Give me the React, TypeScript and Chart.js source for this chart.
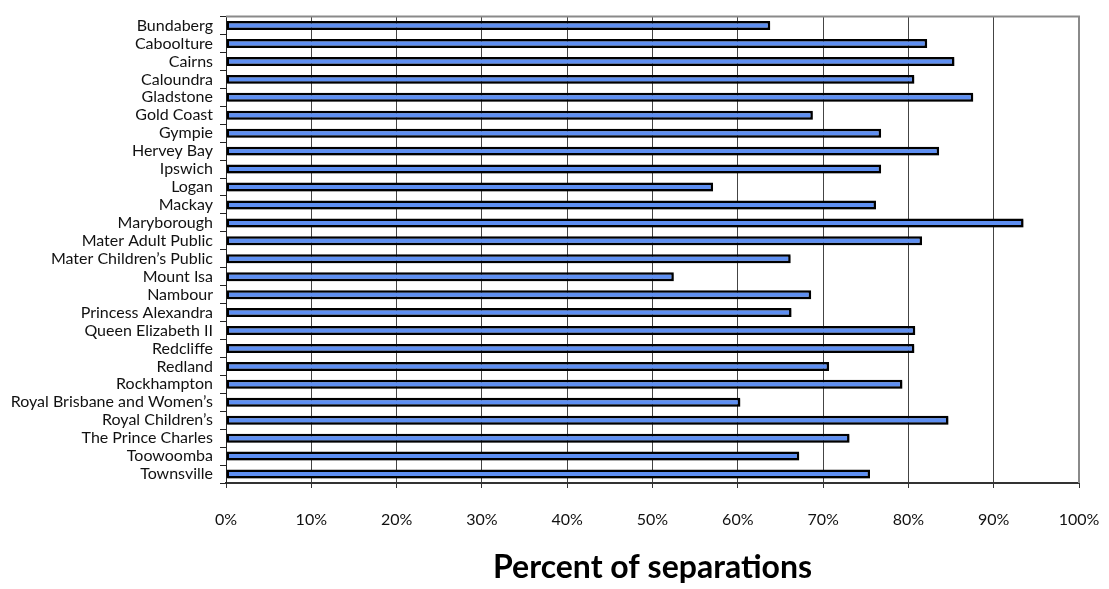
import React, { useEffect, useRef } from 'react';
import { Chart, registerables } from 'chart.js';

Chart.register(...registerables);

const hospitals = [
  'Bundaberg',
  'Caboolture',
  'Cairns',
  'Caloundra',
  'Gladstone',
  'Gold Coast',
  'Gympie',
  'Hervey Bay',
  'Ipswich',
  'Logan',
  'Mackay',
  'Maryborough',
  'Mater Adult Public',
  'Mater Children\u2019s Public',
  'Mount Isa',
  'Nambour',
  'Princess Alexandra',
  'Queen Elizabeth II',
  'Redcliffe',
  'Redland',
  'Rockhampton',
  'Royal Brisbane and Women\u2019s',
  'Royal Children\u2019s',
  'The Prince Charles',
  'Toowoomba',
  'Townsville',
];

const separationsPct = [
  63.8, 82.2, 85.4, 80.7, 87.6, 68.8, 76.8, 83.6, 76.8, 57.1, 76.2, 93.5, 81.6,
  66.2, 52.5, 68.6, 66.3, 80.8, 80.7, 70.7, 79.3, 60.3, 84.7, 73.1, 67.2, 75.5,
];

const tickValues = [0, 10, 20, 30, 40, 50, 60, 70, 80, 90, 100];
const axisTitle = 'Percent of separations';

export default function App() {
  const ref = useRef<HTMLCanvasElement | null>(null);

  useEffect(() => {
    document.body.style.margin = '0';
    if (!ref.current) return;

    const frame = {
      id: 'frame',
      afterDraw(chart: any) {
        const { ctx, chartArea } = chart;
        const { left, top, right, bottom } = chartArea;
        ctx.save();
        ctx.strokeStyle = '#8a8a8a';
        ctx.lineWidth = 2;
        ctx.beginPath();
        ctx.moveTo(left, top);
        ctx.lineTo(right, top);
        ctx.lineTo(right, bottom);
        ctx.stroke();
        ctx.restore();
      },
    };

    const shadow = {
      id: 'barShadow',
      beforeDatasetsDraw(chart: any) {
        const ctx = chart.ctx;
        ctx.save();
        ctx.shadowColor = 'rgba(0,0,0,0.22)';
        ctx.shadowOffsetX = 1.5;
        ctx.shadowOffsetY = 1.5;
        ctx.shadowBlur = 0.5;
      },
      afterDatasetsDraw(chart: any) {
        chart.ctx.restore();
      },
    };

    const labelFont = { family: 'Lato', size: 16 };

    const chart = new Chart(ref.current, {
      type: 'bar',
      data: {
        labels: hospitals,
        datasets: [
          {
            data: separationsPct,
            backgroundColor: '#5e8ff2',
            borderColor: '#000000',
            borderWidth: 2.5,
            borderSkipped: false,
            barPercentage: 0.5,
            categoryPercentage: 1,
          },
        ],
      },
      options: {
        indexAxis: 'y',
        responsive: false,
        animation: false,
        layout: { padding: { left: 0, right: 30, top: 14, bottom: 0 } },
        plugins: {
          legend: { display: false },
          tooltip: { enabled: false },
        },
        scales: {
          x: {
            type: 'linear',
            min: 0,
            max: 100,
            afterBuildTicks: (s: any) => {
              s.ticks = tickValues.map((v) => ({ value: v }));
            },
            afterFit: (s: any) => {
              s.height = 106;
              s.paddingLeft = 0;
              s.paddingRight = 0;
            },
            ticks: {
              callback: (v: any) => v + '%',
              padding: 22,
              font: labelFont,
              color: '#111111',
              maxRotation: 0,
              autoSkip: false,
            },
            grid: {
              color: '#444444',
              lineWidth: 1,
              tickLength: 5,
              tickColor: '#333333',
              drawOnChartArea: true,
            },
            border: { color: '#333333', width: 2 },
            title: {
              display: true,
              text: axisTitle,
              font: { family: 'Lato', size: 32, weight: 'bold' },
              color: '#000000',
              padding: { top: 0, bottom: 2 },
            },
          },
          y: {
            type: 'category',
            afterFit: (s: any) => {
              s.width = 226;
            },
            grid: {
              offset: true,
              drawOnChartArea: false,
              tickLength: 6,
              tickColor: '#222222',
            },
            border: { color: '#222222', width: 1 },
            ticks: {
              padding: 7,
              font: labelFont,
              color: '#111111',
              autoSkip: false,
            },
          },
        },
      },
      plugins: [shadow, frame],
    } as any);

    return () => chart.destroy();
  }, []);

  return (
    <div style={{ width: 1109, height: 589, background: '#ffffff' }}>
      <canvas ref={ref} width={1109} height={589} />
    </div>
  );
}
